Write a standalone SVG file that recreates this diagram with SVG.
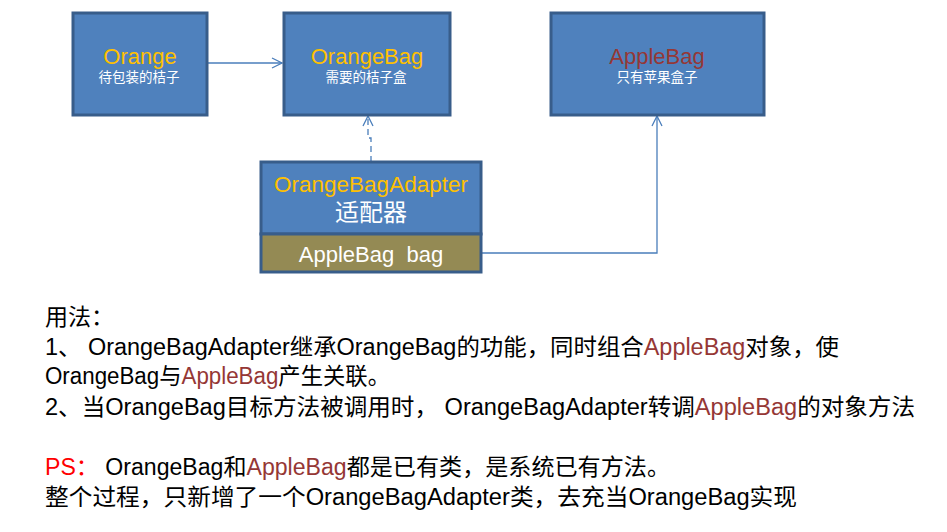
<svg xmlns="http://www.w3.org/2000/svg" width="947" height="532" viewBox="0 0 947 532">
<style>
.box{fill:#4F81BD;stroke:#385D8A;stroke-width:3}
.olive{fill:#948A54;stroke:#385D8A;stroke-width:3}
.t{font-family:"Liberation Sans","Noto Sans CJK SC",sans-serif;text-anchor:middle}
.title{font-size:22px;fill:#FFC000}
.sub{font-size:13.5px;fill:#FFFFFF}
.apple{fill:#953735}
.conn{fill:none;stroke:#4A7EBB;stroke-width:1.3}
.body{font-family:"Liberation Sans","Noto Sans CJK SC",sans-serif;font-size:23px;fill:#000000}
.red{fill:#FF0000}
</style>
<defs>
<marker id="arr" viewBox="0 0 12 12" refX="11" refY="6" markerWidth="12" markerHeight="12" markerUnits="userSpaceOnUse" orient="auto">
<path d="M1,1 L11,6 L1,11" fill="none" stroke="#4A7EBB" stroke-width="1.3"/>
</marker>
</defs>
<g id="connectors">
<line class="conn" x1="207" y1="63" x2="282" y2="63" marker-end="url(#arr)"/>
<path class="conn" d="M371,162 V138 H368 V116" stroke-dasharray="6,4" marker-end="url(#arr)"/>
<path class="conn" d="M481,253 H657 V116" marker-end="url(#arr)"/>
</g>
<g id="orange">
<rect class="box" x="73" y="13" width="134" height="102"/>
<text class="t title" x="140" y="64">Orange</text>
<text class="t sub" x="139" y="82">待包装的桔子</text>
</g>
<g id="orangebag">
<rect class="box" x="284" y="13" width="166" height="102"/>
<text class="t title" x="367" y="64">OrangeBag</text>
<text class="t sub" x="366" y="82">需要的桔子盒</text>
</g>
<g id="applebag">
<rect class="box" x="551" y="13" width="213" height="102"/>
<text class="t title apple" x="657" y="64">AppleBag</text>
<text class="t sub" x="657" y="82">只有苹果盒子</text>
</g>
<g id="adapter">
<rect class="box" x="261" y="162" width="220" height="72"/>
<rect class="olive" x="261" y="234" width="220" height="38"/>
<text class="t" x="371" y="192" font-size="22.5" fill="#FFC000">OrangeBagAdapter</text>
<text class="t" x="371" y="221" font-size="24" fill="#FFFFFF">适配器</text>
<text class="t" x="371" y="262" font-size="22" fill="#FFFFFF" xml:space="preserve">AppleBag  bag</text>
</g>
<g id="notes">
<text class="body" x="45" y="325">用法：</text>
<text class="body" x="45" y="355" textLength="794" lengthAdjust="spacingAndGlyphs">1、 OrangeBagAdapter继承OrangeBag的功能，同时组合<tspan class="apple">AppleBag</tspan>对象，使</text>
<text class="body" x="45" y="384" textLength="345" lengthAdjust="spacingAndGlyphs">OrangeBag与<tspan class="apple">AppleBag</tspan>产生关联。</text>
<text class="body" x="45" y="415" textLength="870" lengthAdjust="spacingAndGlyphs">2、当OrangeBag目标方法被调用时， OrangeBagAdapter转调<tspan class="apple">AppleBag</tspan>的对象方法</text>
<text class="body" x="45" y="475" textLength="625" lengthAdjust="spacingAndGlyphs"><tspan class="red">PS：</tspan> OrangeBag和<tspan class="apple">AppleBag</tspan>都是已有类，是系统已有方法。</text>
<text class="body" x="45" y="505" textLength="752" lengthAdjust="spacingAndGlyphs">整个过程，只新增了一个OrangeBagAdapter类，去充当OrangeBag实现</text>
</g>
</svg>
